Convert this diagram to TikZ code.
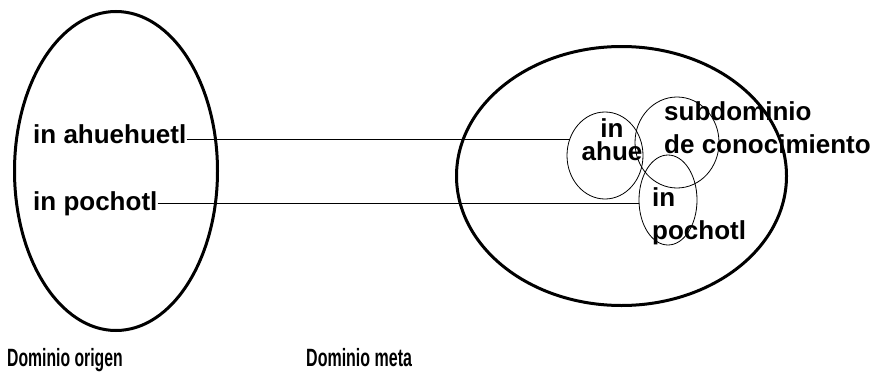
\documentclass[tikz,border=0pt]{standalone}
\usepackage{fontspec}
\usepackage{graphicx}
\setmainfont{Liberation Sans}
\usetikzlibrary{shapes.geometric}

\begin{document}
\begin{tikzpicture}[
  x=1pt, y=-1pt,
  dombox/.style={draw, ellipse, line width=3pt, inner sep=0pt},
  subbox/.style={draw, ellipse, line width=0.8pt, inner sep=0pt},
  lbl/.style={inner sep=0pt, font=\fontsize{26}{23}\selectfont\bfseries},
  lbltwo/.style={lbl, font=\fontsize{26}{33}\selectfont\bfseries},
  capbox/.style={inner sep=0pt, anchor=base west, font=\fontsize{25}{25}\selectfont\bfseries}
]
\useasboundingbox (0,0) rectangle (878,372);

\node[dombox, minimum width=203pt, minimum height=319pt] (origen) at (116,171) {};
\node[dombox, minimum width=330pt, minimum height=259pt] (meta) at (621.5,176) {};

\node[subbox, minimum width=76pt, minimum height=87pt] (ahue) at (605,155.5) {};
\node[subbox, minimum width=84pt, minimum height=91pt] (subdom) at (677,142.5) {};
\node[subbox, minimum width=58pt, minimum height=90pt] (pocht) at (668,200) {};

\node[lbl, anchor=base west] (ahuehuetl) at (33,143) {in ahuehuetl};
\node[lbl, anchor=base west] (pochotl) at (33,210) {in pochotl};

\node[lbl, align=center, anchor=base] (ahuetxt) at (612,160) {in\\ahue};
\node[lbltwo, align=left, anchor=base west] (subtxt) at (664,153) {subdominio\\de conocimiento};
\node[lbltwo, align=left, anchor=base west] (pochtxt) at (652,239) {in\\pochotl};

\node[capbox] (capo) at (7,366) {\scalebox{0.63}[1]{Dominio origen}};
\node[capbox] (capm) at (306,366) {\scalebox{0.64}[1]{Dominio meta}};

\coordinate (pA) at ([yshift=4pt]ahuehuetl.base east);
\coordinate (pB) at ([yshift=7pt]pochotl.base east);
\draw[line width=1pt] (pA) -- (pA -| ahue.154);
\draw[line width=1pt] (pB) -- (pB -| pocht.west);
\end{tikzpicture}
\end{document}
